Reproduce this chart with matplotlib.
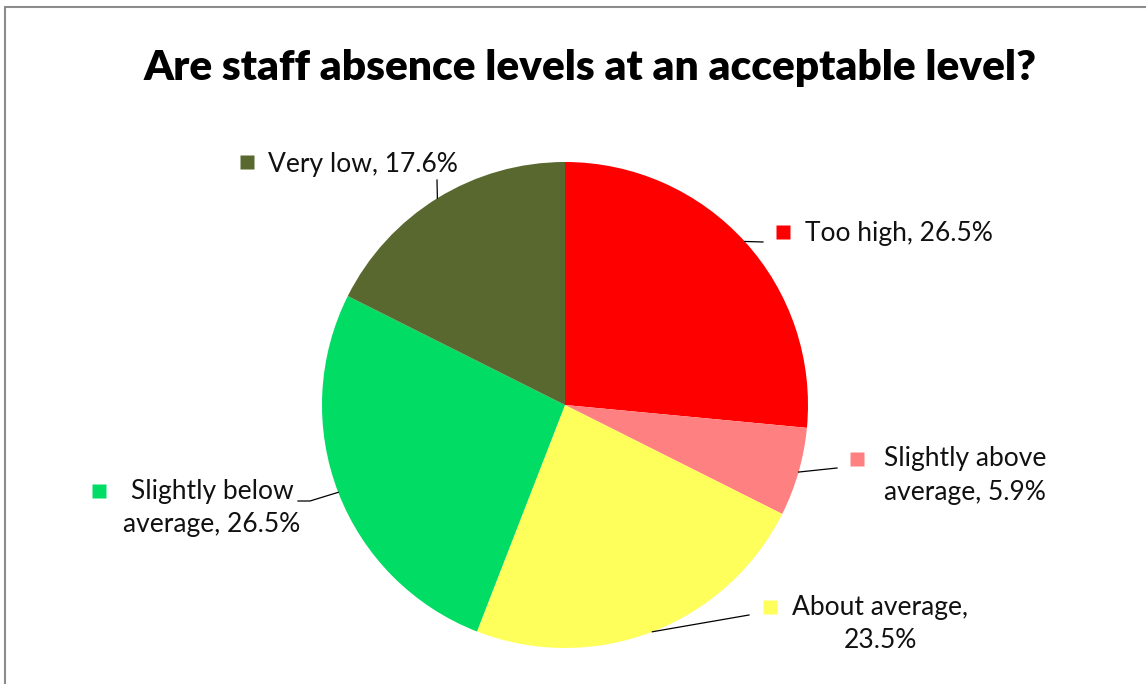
import matplotlib
matplotlib.use("Agg")
import matplotlib.pyplot as plt
import matplotlib.font_manager as fm
from matplotlib.patches import Rectangle
import numpy as np

# chart data
categories = ["Too high", "Slightly above average", "About average",
              "Slightly below average", "Very low"]
values = [26.5, 5.9, 23.5, 26.5, 17.6]
colors = ["#FF0000", "#FF8080", "#FFFF5C", "#00DC64", "#58682E"]
# how each label is broken into lines
label_lines = [
    ["Too high, 26.5%"],
    ["Slightly above", "average, 5.9%"],
    ["About average,", "23.5%"],
    ["Slightly below", "average, 26.5%"],
    ["Very low, 17.6%"],
]

W, H = 1146, 684
installed = set(f.name for f in fm.fontManager.ttflist)
label_font = "Lato" if "Lato" in installed else "DejaVu Sans"

fig = plt.figure(figsize=(W / 100, H / 100), dpi=100)
ax = fig.add_axes([0, 0, 1, 1])

# pie in pixel coords (y up)
cx, cy, r = 565, H - 405, 243
wedges, _ = ax.pie(values, colors=colors, startangle=90, counterclock=False,
                   center=(cx, cy), radius=r, frame=True,
                   wedgeprops=dict(linewidth=0))
ax.set_xlim(0, W)
ax.set_ylim(0, H)
ax.axis("off")

# label layout: marker centre, text lines (x, baseline y, ha), leader end points
layout = [
    dict(marker=(782.5, 452), lines=[(805, 443, "left")], leader=[(763, 442)]),
    dict(marker=(857, 225.5), lines=[(965, 218, "center"), (965, 184, "center")],
         leader=[(837, 216)]),
    dict(marker=(770, 77), lines=[(792, 69, "left"), (880, 36, "center")],
         leader=[(749, 69)]),
    dict(marker=(99, 193), lines=[(212, 185, "center"), (212, 152, "center")],
         leader=[(310, 183), (298, 183)]),
    dict(marker=(246.5, 522.5), lines=[(268, 512, "left")], leader=[(437, 504)]),
]

for w, col, lines, lay in zip(wedges, colors, label_lines, layout):
    mid = np.deg2rad((w.theta1 + w.theta2) / 2)
    px, py = cx + r * np.cos(mid), cy + r * np.sin(mid)
    xs = [px] + [p[0] for p in lay["leader"]]
    ys = [py] + [p[1] for p in lay["leader"]]
    ax.plot(xs, ys, color="#000000", lw=0.9)
    ax.plot(*lay["marker"], marker="s", ms=9.5, color=col, mec="none")
    for txt, (tx, ty, ha) in zip(lines, lay["lines"]):
        ax.text(tx, ty, txt, ha=ha, va="baseline", fontsize=19,
                family=label_font, color="#111111")

ax.text(590, H - 80, "Are staff absence levels at an acceptable level?",
        ha="center", va="baseline", fontsize=30.5, fontweight="heavy",
        family=label_font, color="#000000")

# chart border
ax.add_patch(Rectangle((5, -20), W + 40, H - 7 + 20, fill=False,
                       edgecolor="#8C8C8C", lw=1.5, clip_on=False))

fig.savefig("out.png", dpi=100)
